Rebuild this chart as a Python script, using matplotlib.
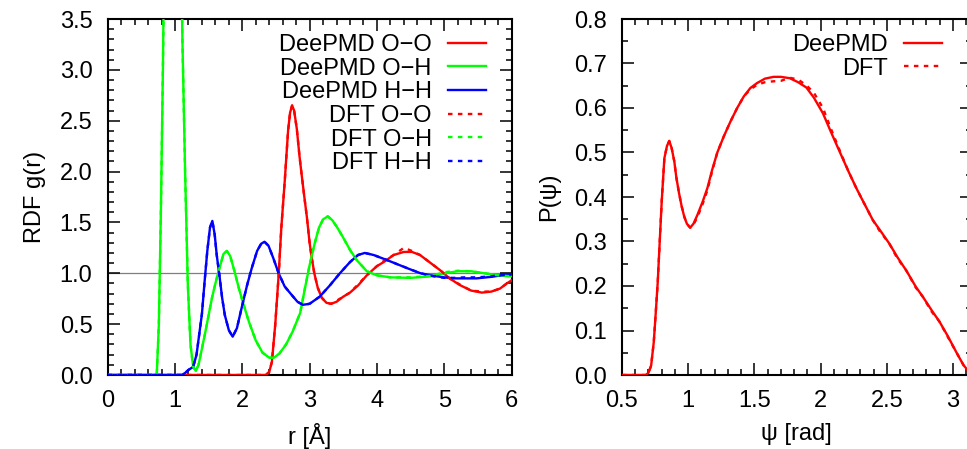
#!/usr/bin/env python3
# RDF and angular distribution: DeePMD vs DFT water
import matplotlib
matplotlib.use('Agg')
import matplotlib.pyplot as plt
from matplotlib.ticker import MultipleLocator, FormatStrFormatter

plt.rcParams['font.family'] = ['Liberation Sans', 'DejaVu Sans']
plt.rcParams['font.size'] = 17

# ---- left panel data: radial distribution functions ----
r_oo = [0.0, 2.35, 2.40, 2.44, 2.49, 2.54, 2.58, 2.63, 2.68, 2.71, 2.74, 2.77, 2.81, 2.85, 2.88,
        2.92, 2.96, 3.00, 3.03, 3.07, 3.12, 3.18, 3.25, 3.32, 3.40, 3.50, 3.60, 3.72, 3.85, 4.00,
        4.10, 4.25, 4.40, 4.52, 4.64, 4.80, 4.94, 5.08, 5.23, 5.40, 5.56, 5.70, 5.83, 5.93, 6.00]
g_oo_deepmd = [0.0, 0.0, 0.03, 0.13, 0.50, 0.98, 1.45, 1.90, 2.40, 2.58, 2.65, 2.60, 2.42, 2.15, 1.98,
               1.76, 1.55, 1.30, 1.16, 1.00, 0.86, 0.76, 0.71, 0.70, 0.72, 0.77, 0.81, 0.88, 0.98, 1.07,
               1.11, 1.18, 1.21, 1.21, 1.18, 1.10, 1.03, 0.95, 0.885, 0.83, 0.81, 0.82, 0.85, 0.90, 0.93]
g_oo_dft = [0.0, 0.0, 0.03, 0.13, 0.50, 0.98, 1.45, 1.90, 2.40, 2.58, 2.65, 2.60, 2.42, 2.15, 1.98,
            1.76, 1.55, 1.30, 1.16, 1.00, 0.86, 0.76, 0.71, 0.70, 0.73, 0.77, 0.81, 0.89, 0.98, 1.07,
            1.12, 1.18, 1.25, 1.22, 1.18, 1.10, 1.03, 0.95, 0.89, 0.83, 0.82, 0.82, 0.85, 0.90, 0.93]

r_oh = [0.0, 0.70, 0.73, 0.76, 0.79, 0.82, 0.85, 0.90, 0.97, 1.03, 1.08, 1.11, 1.15, 1.19, 1.23,
        1.27, 1.31, 1.35, 1.40, 1.45, 1.50, 1.55, 1.60, 1.66, 1.72, 1.77, 1.82, 1.88, 1.95, 2.02,
        2.10, 2.20, 2.30, 2.40, 2.47, 2.55, 2.65, 2.75, 2.86, 2.93, 3.00, 3.07, 3.14, 3.20, 3.27,
        3.34, 3.42, 3.50, 3.60, 3.70, 3.85, 4.00, 4.20, 4.50, 4.80, 5.00, 5.20, 5.40, 5.60, 5.80, 6.00]
g_oh_deepmd = [0.0, 0.0, 0.02, 0.5, 1.6, 3.0, 4.8, 8.0, 10.0, 7.5, 4.6, 3.3, 2.0, 0.9, 0.3,
               0.08, 0.04, 0.10, 0.26, 0.42, 0.59, 0.76, 0.90, 1.05, 1.19, 1.22, 1.17, 1.03, 0.85, 0.69,
               0.52, 0.34, 0.22, 0.17, 0.17, 0.21, 0.30, 0.43, 0.61, 0.85, 1.08, 1.28, 1.45, 1.53, 1.56,
               1.52, 1.44, 1.35, 1.23, 1.13, 1.02, 0.98, 0.96, 0.955, 0.97, 1.00, 1.02, 1.02, 1.00, 0.98, 0.97]
g_oh_dft = [0.0, 0.0, 0.02, 0.5, 1.6, 3.0, 4.8, 8.0, 10.0, 7.5, 4.6, 3.3, 2.0, 0.9, 0.3,
            0.08, 0.04, 0.10, 0.26, 0.42, 0.59, 0.76, 0.90, 1.05, 1.19, 1.22, 1.17, 1.03, 0.85, 0.69,
            0.52, 0.34, 0.22, 0.17, 0.17, 0.21, 0.30, 0.43, 0.61, 0.85, 1.08, 1.28, 1.45, 1.53, 1.56,
            1.52, 1.44, 1.35, 1.23, 1.13, 1.02, 0.98, 0.96, 0.96, 0.975, 1.01, 1.025, 1.02, 1.00, 0.98, 0.97]

r_hh = [0.0, 1.10, 1.15, 1.20, 1.27, 1.32, 1.36, 1.40, 1.44, 1.48, 1.52, 1.555, 1.59, 1.62, 1.66,
        1.70, 1.74, 1.80, 1.857, 1.92, 1.99, 2.07, 2.14, 2.22, 2.28, 2.33, 2.39, 2.46, 2.54, 2.63,
        2.73, 2.82, 2.90, 3.00, 3.15, 3.30, 3.45, 3.60, 3.72, 3.82, 3.95, 4.15, 4.30, 4.49, 4.65,
        4.84, 5.00, 5.14, 5.30, 5.48, 5.70, 5.85, 6.00]
g_hh_deepmd = [0.0, 0.0, 0.02, 0.05, 0.08, 0.20, 0.40, 0.60, 0.92, 1.22, 1.45, 1.515, 1.38, 1.18, 0.98,
               0.76, 0.59, 0.44, 0.377, 0.46, 0.66, 0.88, 1.05, 1.22, 1.29, 1.31, 1.27, 1.15, 1.00, 0.87,
               0.79, 0.72, 0.69, 0.70, 0.77, 0.88, 1.00, 1.11, 1.18, 1.20, 1.18, 1.13, 1.09, 1.04, 1.00,
               0.975, 0.96, 0.95, 0.95, 0.95, 0.965, 0.98, 0.99]
g_hh_dft = [0.0, 0.0, 0.02, 0.05, 0.08, 0.20, 0.40, 0.60, 0.92, 1.22, 1.45, 1.515, 1.38, 1.18, 0.98,
            0.76, 0.59, 0.44, 0.377, 0.46, 0.66, 0.88, 1.05, 1.22, 1.29, 1.31, 1.27, 1.15, 1.00, 0.87,
            0.79, 0.72, 0.69, 0.70, 0.77, 0.88, 1.00, 1.11, 1.18, 1.20, 1.18, 1.13, 1.09, 1.04, 1.00,
            0.97, 0.955, 0.955, 0.96, 0.96, 0.97, 0.985, 0.99]

# ---- right panel data: angular distribution ----
psi = [0.50, 0.68, 0.70, 0.72, 0.74, 0.755, 0.77, 0.785, 0.80, 0.82, 0.84, 0.857, 0.875, 0.895, 0.91,
       0.93, 0.95, 0.97, 0.99, 1.015, 1.04, 1.07, 1.11, 1.145, 1.18, 1.22, 1.27, 1.32, 1.37, 1.42,
       1.47, 1.52, 1.58, 1.645, 1.70, 1.767, 1.83, 1.893, 1.95, 2.018, 2.08, 2.144, 2.21, 2.27, 2.32,
       2.395, 2.45, 2.52, 2.58, 2.647, 2.72, 2.772, 2.84, 2.898, 2.96, 3.024, 3.08, 3.1416]
p_deepmd = [0.0, 0.0, 0.005, 0.021, 0.074, 0.14, 0.209, 0.30, 0.39, 0.487, 0.515, 0.526, 0.51, 0.48, 0.445,
            0.41, 0.38, 0.356, 0.34, 0.331, 0.34, 0.36, 0.39, 0.42, 0.46, 0.50, 0.537, 0.57, 0.60, 0.626,
            0.645, 0.656, 0.666, 0.670, 0.670, 0.667, 0.658, 0.646, 0.623, 0.588, 0.545, 0.502, 0.458, 0.42, 0.391,
            0.348, 0.325, 0.295, 0.265, 0.235, 0.198, 0.176, 0.145, 0.12, 0.088, 0.052, 0.022, 0.0]
p_dft = [0.0, 0.0, 0.005, 0.021, 0.074, 0.14, 0.209, 0.30, 0.39, 0.487, 0.515, 0.526, 0.51, 0.48, 0.445,
         0.41, 0.38, 0.356, 0.34, 0.331, 0.338, 0.355, 0.385, 0.415, 0.457, 0.50, 0.537, 0.57, 0.60, 0.626,
         0.642, 0.652, 0.658, 0.660, 0.661, 0.668, 0.664, 0.651, 0.634, 0.600, 0.552, 0.505, 0.458, 0.42, 0.391,
         0.348, 0.322, 0.295, 0.262, 0.235, 0.196, 0.176, 0.142, 0.12, 0.086, 0.052, 0.022, 0.0]

dotted = (0, (1.9, 2.3))
lw = 1.7

fig = plt.figure(figsize=(9.67, 4.49), dpi=100)
ax1 = fig.add_axes([107.7 / 967, 74 / 449, 403.8 / 967, 356 / 449])
ax2 = fig.add_axes([622 / 967, 74 / 449, 349.7 / 967, 356 / 449])

# left panel
ax1.axhline(1.0, color='#7f7f7f', lw=0.9, zorder=1)
ax1.plot(r_oo, g_oo_deepmd, color='#ff0000', lw=lw, zorder=3, label='DeePMD O\u2212O')
ax1.plot(r_oh, g_oh_deepmd, color='#00ff00', lw=lw, zorder=3, label='DeePMD O\u2212H')
ax1.plot(r_hh, g_hh_deepmd, color='#0000ff', lw=lw, zorder=3, label='DeePMD H\u2212H')
ax1.plot(r_oo, g_oo_dft, color='#ff0000', lw=lw, ls=dotted, zorder=3, label='DFT O\u2212O')
ax1.plot(r_oh, g_oh_dft, color='#00ff00', lw=lw, ls=dotted, zorder=3, label='DFT O\u2212H')
ax1.plot(r_hh, g_hh_dft, color='#0000ff', lw=lw, ls=dotted, zorder=3, label='DFT H\u2212H')
ax1.set_xlim(0, 6)
ax1.set_ylim(0, 3.5)
ax1.xaxis.set_major_locator(MultipleLocator(1))
ax1.xaxis.set_minor_locator(MultipleLocator(0.2))
ax1.yaxis.set_major_locator(MultipleLocator(0.5))
ax1.yaxis.set_minor_locator(MultipleLocator(0.1))
ax1.yaxis.set_major_formatter(FormatStrFormatter('%.1f'))
ax1.set_xlabel('r [\u00c5]', labelpad=8)
ax1.set_ylabel('RDF g(r)', labelpad=10)
ax1.legend(loc='upper right', bbox_to_anchor=(0.937, 0.958), markerfirst=False, frameon=False,
           handlelength=1.6, handletextpad=0.7, labelspacing=0.07, borderpad=0, borderaxespad=0)

# right panel
ax2.plot(psi, p_deepmd, color='#ff0000', lw=lw, zorder=3, label='DeePMD')
ax2.plot(psi, p_dft, color='#ff0000', lw=lw, ls=dotted, zorder=3, label='DFT')
ax2.set_xlim(0.5, 3.1416)
ax2.set_ylim(0, 0.8)
ax2.xaxis.set_major_locator(MultipleLocator(0.5))
ax2.xaxis.set_minor_locator(MultipleLocator(0.1))
ax2.yaxis.set_major_locator(MultipleLocator(0.1))
ax2.yaxis.set_minor_locator(MultipleLocator(0.05))
ax2.xaxis.set_major_formatter(FormatStrFormatter('%g'))
ax2.yaxis.set_major_formatter(FormatStrFormatter('%.1f'))
ax2.set_xlabel('\u03c8 [rad]', labelpad=8)
ax2.set_ylabel('P(\u03c8)', labelpad=10)
ax2.legend(loc='upper right', bbox_to_anchor=(0.915, 0.958), markerfirst=False, frameon=False,
           handlelength=1.6, handletextpad=0.7, labelspacing=0.07, borderpad=0, borderaxespad=0)

# gnuplot-like frame: inward ticks on every side
for ax in (ax1, ax2):
    for s in ax.spines.values():
        s.set_linewidth(1.5)
    ax.tick_params(which='both', direction='in', top=True, right=True, width=1.1, pad=11)
    ax.tick_params(which='major', length=8.6)
    ax.tick_params(which='minor', length=4.3)

fig.savefig('out.png', dpi=100)
print('Saved plot to out.png')
